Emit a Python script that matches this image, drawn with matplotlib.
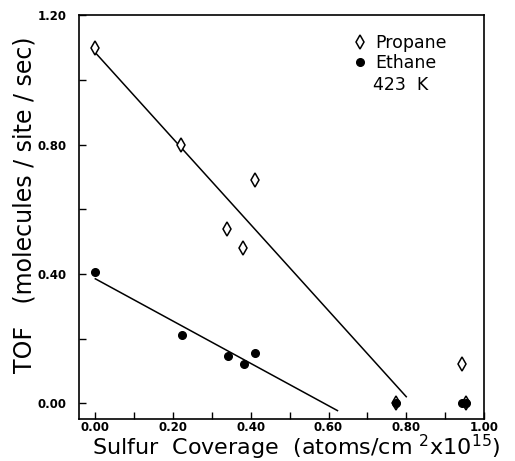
import numpy as np
import matplotlib
matplotlib.use("Agg")
import matplotlib.pyplot as plt
from matplotlib.lines import Line2D

# sulfur coverage (atoms/cm2 x 1e15) and TOF values
propane_x = [0.00, 0.22, 0.41, 0.34, 0.38, 0.943, 0.773, 0.953]
propane_y = [1.10, 0.80, 0.69, 0.54, 0.48, 0.12, 0.00, 0.00]
ethane_x = [0.00, 0.222, 0.341, 0.382, 0.412, 0.773, 0.943, 0.953]
ethane_y = [0.405, 0.21, 0.145, 0.12, 0.155, 0.00, 0.00, 0.00]

# straight-line fits drawn through the points
propane_fit_x = [0.00, 0.80]
propane_fit_y = [1.085, 0.02]
ethane_fit_x = [0.00, 0.623]
ethane_fit_y = [0.385, -0.023]

xticks = [0.0, 0.2, 0.4, 0.6, 0.8, 1.0]
yticks = [0.0, 0.4, 0.8, 1.2]

fig = plt.figure(figsize=(5.15, 4.61), dpi=100)
ax = fig.add_axes([0.1534, 0.0911, 0.7864, 0.8753])

ax.plot(propane_fit_x, propane_fit_y, color="black", lw=1.1)
ax.plot(ethane_fit_x, ethane_fit_y, color="black", lw=1.1)
ax.plot(propane_x, propane_y, ls="none", marker="d", ms=7.5, mfc="white",
        mec="black", mew=1.1)
ax.plot(ethane_x, ethane_y, ls="none", marker="o", ms=5.5, color="black")

ax.set_xlim(-0.042, 1.0)
ax.set_ylim(-0.049, 1.2)
ax.set_xticks(xticks)
ax.set_xticklabels(["%.2f" % v for v in xticks])
ax.set_xticks(np.arange(0.1, 1.0, 0.2), minor=True)
ax.set_yticks(yticks)
ax.set_yticklabels(["%.2f" % v for v in yticks])
ax.set_yticks([0.2, 0.6, 1.0], minor=True)
ax.tick_params(which="both", direction="in", length=5, width=1)
ax.tick_params(axis="x", which="major", pad=1.5, labelsize=8.5)
ax.tick_params(axis="y", which="major", pad=9, labelsize=8.5)
for lab in ax.get_xticklabels() + ax.get_yticklabels():
    lab.set_fontweight("bold")
for s in ax.spines.values():
    s.set_linewidth(1.2)

ax.set_ylabel("TOF   (molecules / site / sec)", fontsize=17)
ax.yaxis.set_label_coords(-0.105, 0.53)
ax.set_xlabel(r"Sulfur  Coverage  (atoms/cm $^2$x10$^{15}$)", fontsize=16,
              va="baseline")
ax.xaxis.set_label_coords(0.535, -0.0893)

handles = [Line2D([], [], ls="none", marker="d", ms=7.5, mfc="white",
                  mec="black", mew=1.1),
           Line2D([], [], ls="none", marker="o", ms=5.5, color="black")]
ax.legend(handles, ["Propane", "Ethane"], loc="upper left",
          bbox_to_anchor=(0.665, 0.972), frameon=False, fontsize=12.5,
          handlelength=0.6, handletextpad=0.55, labelspacing=0.12,
          borderaxespad=0)
ax.text(0.725, 0.827, "423  K", transform=ax.transAxes, fontsize=12.5,
        ha="left", va="center")

fig.savefig("out.png", dpi=100)
